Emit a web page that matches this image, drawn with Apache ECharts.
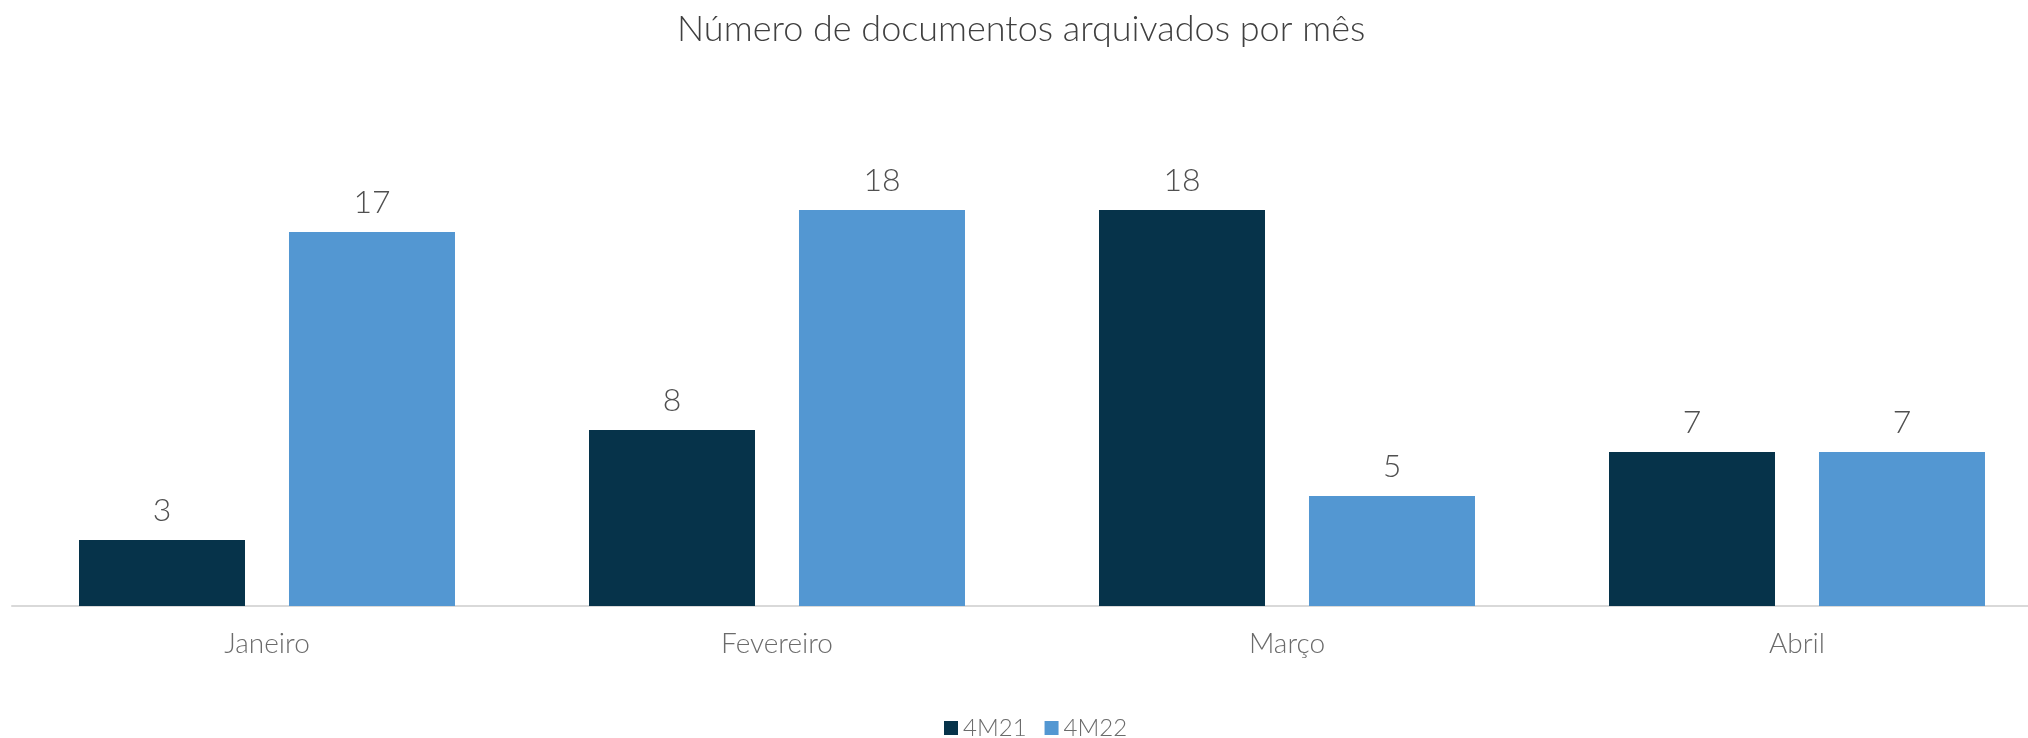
<!DOCTYPE html>
<html>
<head>
<meta charset="utf-8">
<script src="https://cdn.jsdelivr.net/npm/echarts@6/dist/echarts.min.js"></script>
<style>
  html, body { margin: 0; padding: 0; background: #ffffff; }
  #chart { width: 2028px; height: 738px; }
</style>
</head>
<body>
<div id="chart"></div>
<script>
const months = ['Janeiro', 'Fevereiro', 'Março', 'Abril'];
const seriesNames = ['4M21', '4M22'];
const values4M21 = [3, 8, 18, 7];
const values4M22 = [17, 18, 5, 7];

const FONT = 'Lato';
const colors = ['#06334a', '#5397d2'];

const chart = echarts.init(document.getElementById('chart'));

const labelStyle = {
    show: true,
    position: 'top',
    distance: 13,
    fontFamily: FONT,
    fontWeight: 300,
    fontSize: 32,
    color: '#505050'
};

chart.setOption({
    animation: false,
    backgroundColor: '#ffffff',
    title: {
        text: 'Número de documentos arquivados por mês',
        left: 672,
        top: 6,
        textStyle: {
            fontFamily: FONT,
            fontWeight: 300,
            fontSize: 36,
            color: '#404040'
        }
    },
    legend: {
        left: 944,
        top: 716,
        padding: 0,
        itemWidth: 14,
        itemHeight: 14,
        itemGap: 18,
        icon: 'rect',
        textStyle: {
            fontFamily: FONT,
            fontWeight: 300,
            fontSize: 24,
            color: '#6b6b6b',
            padding: [0, 0, 0, 0]
        },
        data: seriesNames
    },
    grid: {
        left: 12,
        top: 166,
        width: 2040,
        height: 440,
        outerBoundsMode: 'none',
        containLabel: false
    },
    xAxis: {
        type: 'category',
        data: months,
        axisLine: { lineStyle: { color: '#d9d9d9', width: 2 } },
        axisTick: { show: false },
        axisLabel: {
            margin: 24,
            fontFamily: FONT,
            fontWeight: 300,
            fontSize: 28,
            color: '#6b6b6b'
        }
    },
    yAxis: {
        type: 'value',
        min: 0,
        max: 20,
        show: false,
        splitLine: { show: false }
    },
    series: [
        {
            name: seriesNames[0],
            type: 'bar',
            data: values4M21,
            barWidth: 166,
            barGap: '26.5%',
            itemStyle: { color: colors[0] },
            label: labelStyle
        },
        {
            name: seriesNames[1],
            type: 'bar',
            data: values4M22,
            barWidth: 166,
            barGap: '26.5%',
            itemStyle: { color: colors[1] },
            label: labelStyle
        }
    ]
});
</script>
</body>
</html>
